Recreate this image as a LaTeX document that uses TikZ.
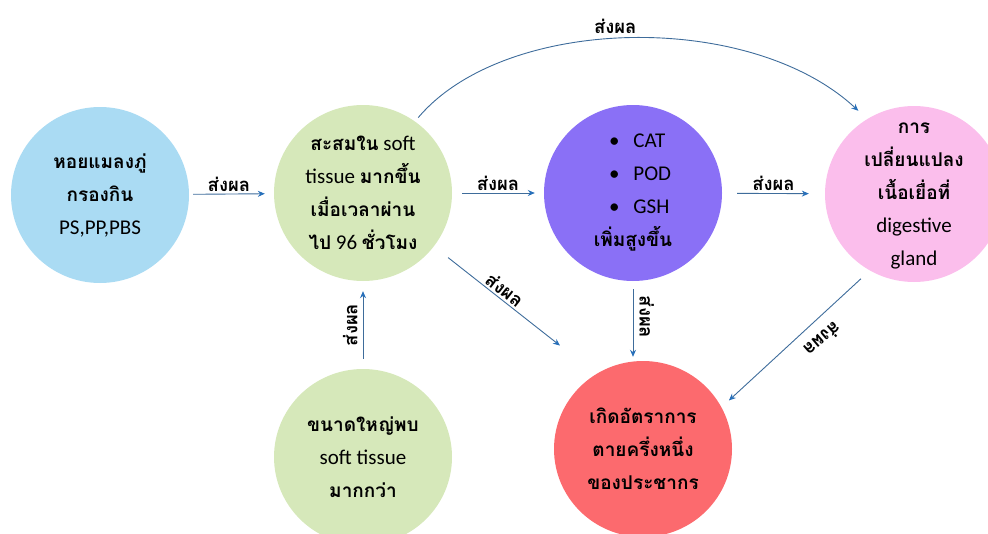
\documentclass[tikz,border=0pt]{standalone}
\usepackage{fontspec}
\setmainfont{Carlito}
\newfontfamily\thaifont[Script=Thai]{Loma}
\usetikzlibrary{arrows.meta,shapes.geometric}
\newcommand\thw[1]{{\thaifont\bfseries\fontsize{19pt}{33pt}\selectfont #1}}

\definecolor{lineblue}{RGB}{62,108,155}
\definecolor{tipblue}{RGB}{40,112,186}
\definecolor{skyfill}{RGB}{170,219,243}
\definecolor{leaffill}{RGB}{214,232,186}
\definecolor{violetfill}{RGB}{138,112,246}
\definecolor{rosefill}{RGB}{251,190,236}
\definecolor{redfill}{RGB}{252,106,110}

\tikzset{
  bubble/.style={ellipse, minimum width=178pt, minimum height=176pt,
    inner sep=0pt},
  inside/.style={align=center, inner sep=0pt,
    font=\fontsize{21pt}{33pt}\selectfont},
  link/.style={draw=lineblue, line width=0.9pt,
    -{Stealth[length=7pt,width=6pt,color=tipblue,fill=tipblue]}},
  effect/.style={font=\thaifont\bfseries\fontsize{18.5pt}{20pt}\selectfont,
    inner sep=2pt, text=black},
  offset/.style={inner ysep=#1}
}

\begin{document}
\begin{tikzpicture}[x=1pt,y=-1pt]
\useasboundingbox (0,0) rectangle (988,533);

% circles
\node[bubble, fill=skyfill]    (mussel) at (100,195) {};
\node[bubble, fill=leaffill]   (accum)  at (363,193) {};
\node[bubble, fill=violetfill] (enzyme) at (633,193) {};
\node[bubble, fill=rosefill]   (gland)  at (914,194) {};
\node[bubble, fill=leaffill]   (size)   at (363,457) {};
\node[bubble, fill=redfill]    (death)  at (643,449) {};

% text in the middle of each circle
\node[inside] (mussel-text) at (mussel)
  {\thw{หอยแมลงภู่}\\\thw{กรองกิน}\\PS,PP,PBS};
\node[inside] (accum-text) at (accum)
  {\thw{สะสมใน} soft\\tissue \thw{มากขึ้น}\\\thw{เมื่อเวลาผ่าน}\\\thw{ไป} 96 \thw{ชั่วโมง}};
\node[inside] (enzyme-text) at (enzyme)
  {\makebox[48pt][l]{\textbullet\hspace{14pt}CAT}\\
   \makebox[48pt][l]{\textbullet\hspace{14pt}POD}\\
   \makebox[48pt][l]{\textbullet\hspace{14pt}GSH}\\
   \thw{เพิ่มสูงขึ้น}};
\node[inside] (gland-text) at ([yshift=-2pt]gland.center)
  {\thw{การ}\\\thw{เปลี่ยนแปลง}\\\thw{เนื้อเยื่อที่}\\digestive\\gland};
\node[inside] (size-text) at (size)
  {\thw{ขนาดใหญ่พบ}\\soft tissue\\\thw{มากกว่า}};
\node[inside] (death-text) at (death)
  {\thw{เกิดอัตราการ}\\\thw{ตายครึ่งหนึ่ง}\\\thw{ของประชากร}};

% horizontal effects
\draw[link, shorten <=4pt, shorten >=9pt] (mussel) -- node[effect, above, pos=0.47] {ส่งผล} (accum);
\draw[link, shorten <=10pt, shorten >=9pt] (accum) -- node[effect, above, pos=0.5] {ส่งผล} (enzyme);
\draw[link, shorten <=15pt, shorten >=16pt] (enzyme) -- node[effect, above, pos=0.5] {ส่งผล} (gland);

% arc over the top
\draw[link, shorten <=5pt, shorten >=12pt] (accum.54)
  .. controls (505,15) and (750,10) .. node[effect, above=4pt, pos=0.47] {ส่งผล} (gland.122);

% diagonal into the red circle
\draw[link, shorten <=18pt, shorten >=46pt] (accum.-37) --
  node[effect, sloped, above, pos=0.4] {ส่งผล} (death.122);

% vertical effects
\draw[link, shorten <=8pt, shorten >=4pt] (enzyme.south) --
  node[effect, offset=6pt, rotate=-90, anchor=south, pos=0.45] {ส่งผล} (enzyme.south |- death.north);
\draw[link, shorten <=10pt, shorten >=10pt] (size.north) --
  node[effect, offset=5pt, rotate=90, anchor=south, pos=0.5] {ส่งผล} (accum.south);

% diagonal from the pink circle
\draw[link, shorten <=12pt, shorten >=10pt] (gland.240) --
  node[effect, offset=11pt, rotate=220.5, anchor=south, pos=0.4] {ส่งผล} (death.28);
\end{tikzpicture}
\end{document}
